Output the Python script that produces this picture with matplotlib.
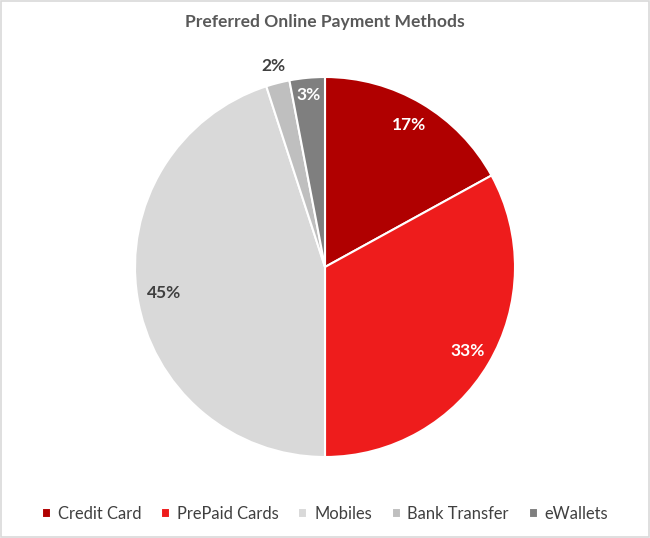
import numpy as np
import matplotlib.pyplot as plt
from matplotlib.patches import Rectangle

plt.rcParams['font.family'] = ['Lato', 'DejaVu Sans']

# data
methods = ['Credit Card', 'PrePaid Cards', 'Mobiles', 'Bank Transfer', 'eWallets']
shares = [17, 33, 45, 2, 3]
colors = ['#B00000', '#EE1C1C', '#D9D9D9', '#BFBFBF', '#7F7F7F']
label_colors = ['white', 'white', '#404040', '#404040', 'white']
label_dist = [0.87, 0.87, 0.86, 1.09, 0.91]

fig = plt.figure(figsize=(6.5, 5.38), dpi=100)
fig.patches.append(Rectangle((0.002, 0.002), 0.996, 0.996, transform=fig.transFigure,
                             fill=False, edgecolor='#D9D9D9', linewidth=1.2))

ax = fig.add_axes([135 / 650, 81 / 538, 380 / 650, 380 / 538])
wedges, _ = ax.pie(shares, colors=colors, startangle=90, counterclock=False,
                   radius=1, wedgeprops=dict(edgecolor='white', linewidth=1.5))
ax.set_xlim(-1, 1)
ax.set_ylim(-1, 1)
ax.set_aspect('equal')
ax.axis('off')

# percentage labels
total = sum(shares)
start = 90.0
for v, c, d in zip(shares, label_colors, label_dist):
    mid = np.deg2rad(start - 360.0 * v / total / 2)
    start -= 360.0 * v / total
    ax.text(d * np.cos(mid), d * np.sin(mid), f'{v}%', ha='center', va='center',
            color=c, fontsize=12.5, fontweight='bold', clip_on=False)

fig.text(0.5, 1 - 22 / 538, 'Preferred Online Payment Methods', ha='center', va='center',
         fontsize=12.6, fontweight='bold', color='#595959')

fig.legend(wedges, methods, loc='center', bbox_to_anchor=(0.5, 1 - 514 / 538), ncol=5,
           frameon=False, fontsize=11.9, handlelength=0.55, handleheight=0.55,
           handletextpad=0.4, columnspacing=1.2, labelcolor='#404040')

fig.savefig('out.png', dpi=100)
